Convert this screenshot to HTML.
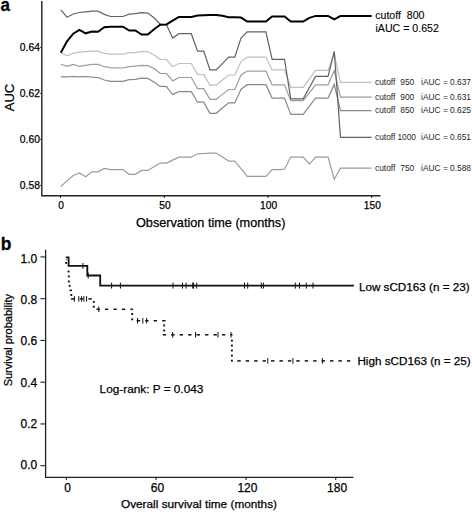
<!DOCTYPE html>
<html><head><meta charset="utf-8"><style>
html,body{margin:0;padding:0;background:#fff;}
svg{display:block;}
text{font-family:'Liberation Sans',sans-serif;fill:#000;stroke:#000;stroke-width:0.25px;}
.sm{fill:#1e1e1e;stroke:none;}
</style></head><body>
<svg width="472" height="512" viewBox="0 0 472 512">
<rect width="472" height="512" fill="#fff"/>

<text transform="translate(0.4,10.8) scale(1,1.11)" style="font-size:17px;font-weight:bold">a</text>
<path d="M41.8,1 V195.8 H380.4" fill="none" stroke="#222" stroke-width="1.4"/>
<line x1="40.2" y1="47.4" x2="41.8" y2="47.4" stroke="#222" stroke-width="1"/>
<text x="39.9" y="51.2" text-anchor="end" style="font-size:10.3px">0.64</text>
<line x1="40.2" y1="93.4" x2="41.8" y2="93.4" stroke="#222" stroke-width="1"/>
<text x="39.9" y="97.2" text-anchor="end" style="font-size:10.3px">0.62</text>
<line x1="40.2" y1="139.4" x2="41.8" y2="139.4" stroke="#222" stroke-width="1"/>
<text x="39.9" y="143.2" text-anchor="end" style="font-size:10.3px">0.60</text>
<line x1="40.2" y1="185.4" x2="41.8" y2="185.4" stroke="#222" stroke-width="1"/>
<text x="39.9" y="189.2" text-anchor="end" style="font-size:10.3px">0.58</text>
<line x1="60.5" y1="195.8" x2="60.5" y2="198" stroke="#222" stroke-width="1"/>
<text x="61.1" y="208.7" text-anchor="middle" style="font-size:10.2px">0</text>
<line x1="164.3" y1="195.8" x2="164.3" y2="198" stroke="#222" stroke-width="1"/>
<text x="164.9" y="208.7" text-anchor="middle" style="font-size:10.2px">50</text>
<line x1="268" y1="195.8" x2="268" y2="198" stroke="#222" stroke-width="1"/>
<text x="268.6" y="208.7" text-anchor="middle" style="font-size:10.2px">100</text>
<line x1="371.7" y1="195.8" x2="371.7" y2="198" stroke="#222" stroke-width="1"/>
<text x="372.3" y="208.7" text-anchor="middle" style="font-size:10.2px">150</text>
<text x="210.7" y="227.3" text-anchor="middle" style="font-size:12.7px">Observation time (months)</text>
<text transform="translate(14,97.5) rotate(-90)" text-anchor="middle" style="font-size:13px">AUC</text>
<polyline points="60.80,186.50 67.02,180.90 73.23,175.50 79.44,173.00 85.66,176.70 91.88,171.80 98.09,171.80 104.30,168.40 110.52,169.60 116.73,169.60 122.95,169.60 129.16,174.30 135.38,174.30 141.59,170.40 147.81,170.40 154.02,166.70 160.24,163.10 166.45,163.10 172.67,160.10 178.88,157.20 185.10,157.20 191.31,157.20 197.53,153.80 203.75,153.50 209.96,153.10 216.18,153.10 222.39,157.10 228.61,161.10 234.82,161.10 241.03,168.70 247.25,176.40 253.46,176.40 259.68,176.40 265.89,176.40 272.11,169.60 278.32,169.60 284.54,169.20 290.75,157.10 296.97,157.10 303.19,157.10 309.40,164.10 315.62,157.10 321.83,157.10 328.05,157.10 334.26,179.20 340.48,168.10 371.60,168.10" fill="none" stroke="#9c9c9c" stroke-width="1.2" stroke-linejoin="miter"/>
<polyline points="60.80,76.90 67.02,76.90 73.23,76.50 79.44,76.90 85.66,76.50 91.88,77.20 98.09,77.50 104.30,80.00 110.52,81.30 116.73,81.30 122.95,81.30 129.16,79.70 135.38,79.40 141.59,78.10 147.81,78.40 154.02,82.00 160.24,86.40 166.45,86.70 172.67,94.60 178.88,91.70 185.10,91.70 191.31,91.70 197.53,102.20 203.75,102.20 209.96,113.30 216.18,113.30 222.39,108.00 228.61,102.90 234.82,102.90 241.03,89.20 247.25,84.70 253.46,84.70 259.68,84.70 265.89,84.70 272.11,98.10 278.32,98.10 284.54,98.10 290.75,114.40 296.97,114.40 303.19,114.40 309.40,106.20 315.62,98.10 321.83,98.10 328.05,98.10 334.26,84.40 340.48,110.60 371.60,110.60" fill="none" stroke="#888888" stroke-width="1.2" stroke-linejoin="miter"/>
<polyline points="60.80,64.20 67.02,66.30 73.23,64.40 79.44,66.30 85.66,65.40 91.88,64.40 98.09,64.40 104.30,66.70 110.52,67.70 116.73,67.80 122.95,68.00 129.16,66.70 135.38,66.10 141.59,65.40 147.81,65.70 154.02,68.60 160.24,73.30 166.45,73.70 172.67,80.90 178.88,77.50 185.10,77.50 191.31,77.50 197.53,88.60 203.75,88.60 209.96,99.30 216.18,99.30 222.39,94.40 228.61,89.50 234.82,89.50 241.03,75.00 247.25,71.10 253.46,71.10 259.68,71.10 265.89,71.10 272.11,84.80 278.32,84.80 284.54,84.80 290.75,100.70 296.97,100.70 303.19,100.70 309.40,92.70 315.62,84.80 321.83,84.80 328.05,84.80 334.26,70.70 340.48,97.10 371.60,97.10" fill="none" stroke="#9e9e9e" stroke-width="1.2" stroke-linejoin="miter"/>
<polyline points="60.80,52.50 67.02,55.90 73.23,53.30 79.44,52.10 85.66,51.60 91.88,51.10 98.09,51.20 104.30,53.30 110.52,54.20 116.73,54.20 122.95,54.20 129.16,52.70 135.38,52.70 141.59,51.40 147.81,51.70 154.02,55.00 160.24,59.30 166.45,59.50 172.67,66.70 178.88,63.50 185.10,63.50 191.31,63.50 197.53,74.30 203.75,74.60 209.96,85.10 216.18,85.10 222.39,80.00 228.61,75.00 234.82,75.00 241.03,61.60 247.25,57.20 253.46,57.20 259.68,57.20 265.89,57.20 272.11,69.90 278.32,69.90 284.54,69.90 290.75,87.30 296.97,87.30 303.19,87.30 309.40,78.80 315.62,70.40 321.83,70.40 328.05,70.40 334.26,54.00 340.48,82.40 371.60,82.40" fill="none" stroke="#c0c0c0" stroke-width="1.2" stroke-linejoin="miter"/>
<polyline points="60.80,9.90 67.02,17.20 73.23,14.00 79.44,12.50 85.66,11.80 91.88,11.10 98.09,11.20 104.30,14.40 110.52,16.50 116.73,16.50 122.95,16.50 129.16,14.20 135.38,13.70 141.59,12.70 147.81,13.10 154.02,17.80 160.24,24.20 166.45,24.80 172.67,38.10 178.88,33.70 185.10,33.70 191.31,33.70 197.53,51.20 203.75,51.20 209.96,69.90 216.18,69.90 222.39,63.60 228.61,57.20 234.82,57.20 241.03,38.10 247.25,31.80 253.46,31.80 259.68,31.80 265.89,31.80 272.11,59.30 278.32,59.30 284.54,59.30 290.75,98.80 296.97,98.80 303.19,98.80 309.40,87.50 315.62,76.40 321.83,76.40 328.05,76.40 334.26,51.30 340.48,137.30 371.60,137.30" fill="none" stroke="#626262" stroke-width="1.2" stroke-linejoin="miter"/>
<polyline points="60.80,52.80 67.02,41.30 73.23,33.70 79.44,29.90 85.66,33.30 91.88,31.50 98.09,31.80 104.30,27.30 110.52,26.70 116.73,26.70 122.95,26.70 129.16,30.50 135.38,30.50 141.59,34.60 147.81,34.60 154.02,29.20 160.24,24.80 166.45,24.40 172.67,20.60 178.88,16.90 185.10,16.90 191.31,16.90 197.53,15.60 203.75,15.20 209.96,14.90 216.18,14.90 222.39,15.80 228.61,17.20 234.82,17.30 241.03,17.60 247.25,21.60 253.46,21.60 259.68,21.60 265.89,21.60 272.11,16.50 278.32,16.50 284.54,16.50 290.75,21.60 296.97,21.60 303.19,21.60 309.40,17.80 315.62,15.90 321.83,15.90 328.05,15.90 334.26,19.40 340.48,15.90 371.60,15.90" fill="none" stroke="#000000" stroke-width="2.0" stroke-linejoin="miter"/>
<text x="375.2" y="18.9" style="font-size:10.6px;stroke-width:0.1px" xml:space="preserve">cutoff  800</text>
<text x="375.5" y="32.1" style="font-size:10.6px;stroke-width:0.1px">iAUC = 0.652</text>
<text x="375" y="85.1" class="sm" style="font-size:8.35px">cutoff</text>
<text x="414.2" y="85.1" text-anchor="end" class="sm" style="font-size:8.35px">950</text>
<text x="421.1" y="85.1" class="sm" style="font-size:8.35px">iAUC = 0.637</text>
<text x="375" y="99.8" class="sm" style="font-size:8.35px">cutoff</text>
<text x="414.2" y="99.8" text-anchor="end" class="sm" style="font-size:8.35px">900</text>
<text x="421.1" y="99.8" class="sm" style="font-size:8.35px">iAUC = 0.631</text>
<text x="375" y="113.3" class="sm" style="font-size:8.35px">cutoff</text>
<text x="414.2" y="113.3" text-anchor="end" class="sm" style="font-size:8.35px">850</text>
<text x="421.1" y="113.3" class="sm" style="font-size:8.35px">iAUC = 0.625</text>
<text x="375" y="140.0" class="sm" style="font-size:8.35px">cutoff</text>
<text x="416" y="140.0" text-anchor="end" class="sm" style="font-size:8.35px">1000</text>
<text x="421.1" y="140.0" class="sm" style="font-size:8.35px">iAUC = 0.651</text>
<text x="375" y="170.8" class="sm" style="font-size:8.35px">cutoff</text>
<text x="414.2" y="170.8" text-anchor="end" class="sm" style="font-size:8.35px">750</text>
<text x="421.1" y="170.8" class="sm" style="font-size:8.35px">iAUC = 0.588</text>
<text transform="translate(0.8,250.1) scale(1.02,1.1)" style="font-size:17px;font-weight:bold">b</text>
<path d="M45.6,249.7 V477.3 H353.4" fill="none" stroke="#222" stroke-width="1.3"/>
<line x1="40.4" y1="256.9" x2="45.6" y2="256.9" stroke="#222" stroke-width="1.1"/>
<text x="37.3" y="263.0" text-anchor="end" style="font-size:12px">1.0</text>
<line x1="40.4" y1="298.65999999999997" x2="45.6" y2="298.65999999999997" stroke="#222" stroke-width="1.1"/>
<text x="37.3" y="304.2" text-anchor="end" style="font-size:12px">0.8</text>
<line x1="40.4" y1="340.41999999999996" x2="45.6" y2="340.41999999999996" stroke="#222" stroke-width="1.1"/>
<text x="37.3" y="345.4" text-anchor="end" style="font-size:12px">0.6</text>
<line x1="40.4" y1="382.17999999999995" x2="45.6" y2="382.17999999999995" stroke="#222" stroke-width="1.1"/>
<text x="37.3" y="386.6" text-anchor="end" style="font-size:12px">0.4</text>
<line x1="40.4" y1="423.93999999999994" x2="45.6" y2="423.93999999999994" stroke="#222" stroke-width="1.1"/>
<text x="37.3" y="427.8" text-anchor="end" style="font-size:12px">0.2</text>
<line x1="40.4" y1="465.69999999999993" x2="45.6" y2="465.69999999999993" stroke="#222" stroke-width="1.1"/>
<text x="37.3" y="469.0" text-anchor="end" style="font-size:12px">0.0</text>
<line x1="66.3" y1="477.2" x2="66.3" y2="480" stroke="#222" stroke-width="1.1"/>
<text x="67.7" y="491.9" text-anchor="middle" style="font-size:12px">0</text>
<line x1="156.1" y1="477.2" x2="156.1" y2="480" stroke="#222" stroke-width="1.1"/>
<text x="157.5" y="491.9" text-anchor="middle" style="font-size:12px">60</text>
<line x1="246" y1="477.2" x2="246" y2="480" stroke="#222" stroke-width="1.1"/>
<text x="247.4" y="491.9" text-anchor="middle" style="font-size:12px">120</text>
<line x1="335.7" y1="477.2" x2="335.7" y2="480" stroke="#222" stroke-width="1.1"/>
<text x="337.1" y="491.9" text-anchor="middle" style="font-size:12px">180</text>
<text x="199" y="507.5" text-anchor="middle" style="font-size:11.8px">Overall survival time (months)</text>
<text transform="translate(12.2,340.2) rotate(-90)" text-anchor="middle" style="font-size:11px">Survival probability</text>
<text x="99.6" y="392.9" style="font-size:11.8px">Log-rank: P = 0.043</text>
<text x="358.9" y="291.2" style="font-size:11.7px">Low sCD163 (n = 23)</text>
<text x="357.4" y="364.5" style="font-size:11.7px">High sCD163 (n = 25)</text>
<path d="M65.8,257.4 H68.6 V265.9 H87.3 V275.5 H100.2 V285.6 H353.9" fill="none" stroke="#111" stroke-width="1.8"/>
<line x1="82.9" y1="262.9" x2="82.9" y2="268.9" stroke="#111" stroke-width="1"/>
<line x1="88.2" y1="272.5" x2="88.2" y2="278.5" stroke="#111" stroke-width="1"/>
<line x1="111.6" y1="282.6" x2="111.6" y2="288.6" stroke="#111" stroke-width="1"/>
<line x1="120.4" y1="282.6" x2="120.4" y2="288.6" stroke="#111" stroke-width="1"/>
<line x1="173" y1="282.6" x2="173" y2="288.6" stroke="#111" stroke-width="1"/>
<line x1="182.5" y1="282.6" x2="182.5" y2="288.6" stroke="#111" stroke-width="1"/>
<line x1="186.1" y1="282.6" x2="186.1" y2="288.6" stroke="#111" stroke-width="1"/>
<line x1="192.7" y1="282.6" x2="192.7" y2="288.6" stroke="#111" stroke-width="1"/>
<line x1="193.6" y1="282.6" x2="193.6" y2="288.6" stroke="#111" stroke-width="1"/>
<line x1="196.7" y1="282.6" x2="196.7" y2="288.6" stroke="#111" stroke-width="1"/>
<line x1="244.5" y1="282.6" x2="244.5" y2="288.6" stroke="#111" stroke-width="1"/>
<line x1="247.7" y1="282.6" x2="247.7" y2="288.6" stroke="#111" stroke-width="1"/>
<line x1="261.3" y1="282.6" x2="261.3" y2="288.6" stroke="#111" stroke-width="1"/>
<line x1="263.4" y1="282.6" x2="263.4" y2="288.6" stroke="#111" stroke-width="1"/>
<line x1="295.3" y1="282.6" x2="295.3" y2="288.6" stroke="#111" stroke-width="1"/>
<line x1="299.5" y1="282.6" x2="299.5" y2="288.6" stroke="#111" stroke-width="1"/>
<line x1="306.3" y1="282.6" x2="306.3" y2="288.6" stroke="#111" stroke-width="1"/>
<line x1="313" y1="282.6" x2="313" y2="288.6" stroke="#111" stroke-width="1"/>
<line x1="71.05" y1="298.9" x2="74.45" y2="298.9" stroke="#111" stroke-width="1.5"/>
<line x1="79.75" y1="298.9" x2="83.15" y2="298.9" stroke="#111" stroke-width="1.5"/>
<line x1="88.45" y1="298.9" x2="91.85" y2="298.9" stroke="#111" stroke-width="1.5"/>
<line x1="96.40" y1="309.3" x2="99.80" y2="309.3" stroke="#111" stroke-width="1.5"/>
<line x1="104.90" y1="309.3" x2="108.30" y2="309.3" stroke="#111" stroke-width="1.5"/>
<line x1="113.40" y1="309.3" x2="116.80" y2="309.3" stroke="#111" stroke-width="1.5"/>
<line x1="121.90" y1="309.3" x2="125.30" y2="309.3" stroke="#111" stroke-width="1.5"/>
<line x1="130.40" y1="309.3" x2="133.00" y2="309.3" stroke="#111" stroke-width="1.5"/>
<line x1="136.70" y1="320.7" x2="140.10" y2="320.7" stroke="#111" stroke-width="1.5"/>
<line x1="145.17" y1="320.7" x2="148.57" y2="320.7" stroke="#111" stroke-width="1.5"/>
<line x1="153.64" y1="320.7" x2="157.04" y2="320.7" stroke="#111" stroke-width="1.5"/>
<line x1="162.11" y1="320.7" x2="165.50" y2="320.7" stroke="#111" stroke-width="1.5"/>
<line x1="162.75" y1="334.8" x2="166.15" y2="334.8" stroke="#111" stroke-width="1.5"/>
<line x1="171.20" y1="334.8" x2="174.60" y2="334.8" stroke="#111" stroke-width="1.5"/>
<line x1="179.65" y1="334.8" x2="183.05" y2="334.8" stroke="#111" stroke-width="1.5"/>
<line x1="188.10" y1="334.8" x2="191.50" y2="334.8" stroke="#111" stroke-width="1.5"/>
<line x1="196.55" y1="334.8" x2="199.95" y2="334.8" stroke="#111" stroke-width="1.5"/>
<line x1="205.00" y1="334.8" x2="208.40" y2="334.8" stroke="#111" stroke-width="1.5"/>
<line x1="213.45" y1="334.8" x2="216.85" y2="334.8" stroke="#111" stroke-width="1.5"/>
<line x1="221.90" y1="334.8" x2="225.30" y2="334.8" stroke="#111" stroke-width="1.5"/>
<line x1="230.35" y1="334.8" x2="232.50" y2="334.8" stroke="#111" stroke-width="1.5"/>
<line x1="237.30" y1="360.9" x2="240.70" y2="360.9" stroke="#111" stroke-width="1.5"/>
<line x1="245.73" y1="360.9" x2="249.13" y2="360.9" stroke="#111" stroke-width="1.5"/>
<line x1="254.16" y1="360.9" x2="257.56" y2="360.9" stroke="#111" stroke-width="1.5"/>
<line x1="262.59" y1="360.9" x2="265.99" y2="360.9" stroke="#111" stroke-width="1.5"/>
<line x1="271.02" y1="360.9" x2="274.42" y2="360.9" stroke="#111" stroke-width="1.5"/>
<line x1="279.45" y1="360.9" x2="282.85" y2="360.9" stroke="#111" stroke-width="1.5"/>
<line x1="287.88" y1="360.9" x2="291.28" y2="360.9" stroke="#111" stroke-width="1.5"/>
<line x1="296.31" y1="360.9" x2="299.71" y2="360.9" stroke="#111" stroke-width="1.5"/>
<line x1="304.74" y1="360.9" x2="308.14" y2="360.9" stroke="#111" stroke-width="1.5"/>
<line x1="313.17" y1="360.9" x2="316.57" y2="360.9" stroke="#111" stroke-width="1.5"/>
<line x1="321.60" y1="360.9" x2="325.00" y2="360.9" stroke="#111" stroke-width="1.5"/>
<line x1="330.03" y1="360.9" x2="333.43" y2="360.9" stroke="#111" stroke-width="1.5"/>
<line x1="338.46" y1="360.9" x2="341.86" y2="360.9" stroke="#111" stroke-width="1.5"/>
<line x1="346.89" y1="360.9" x2="350.29" y2="360.9" stroke="#111" stroke-width="1.5"/>
<line x1="69.4" y1="290.4" x2="72" y2="290.4" stroke="#111" stroke-width="1.5"/>
<rect x="65.5" y="259.2" width="1.2" height="1.2" fill="#555"/>
<rect x="65.15" y="261.95" width="1.9" height="1.9" fill="#111"/>
<rect x="67.55" y="270.55" width="1.9" height="1.9" fill="#111"/>
<rect x="67.85" y="275.45" width="1.9" height="1.9" fill="#111"/>
<rect x="67.85" y="280.55" width="1.9" height="1.9" fill="#111"/>
<rect x="68.65" y="284.95" width="1.9" height="1.9" fill="#111"/>
<rect x="70.35" y="294.05" width="1.9" height="1.9" fill="#111"/>
<rect x="92.85" y="300.95" width="1.9" height="1.9" fill="#111"/>
<rect x="92.85" y="305.75" width="1.9" height="1.9" fill="#111"/>
<rect x="131.25" y="313.05" width="1.9" height="1.9" fill="#111"/>
<rect x="131.25" y="318.35" width="1.9" height="1.9" fill="#111"/>
<rect x="163.25" y="324.45" width="1.9" height="1.9" fill="#111"/>
<rect x="163.25" y="329.55" width="1.9" height="1.9" fill="#111"/>
<rect x="230.95" y="339.65" width="1.9" height="1.9" fill="#111"/>
<rect x="230.95" y="344.65" width="1.9" height="1.9" fill="#111"/>
<rect x="230.95" y="349.55" width="1.9" height="1.9" fill="#111"/>
<rect x="230.95" y="354.65" width="1.9" height="1.9" fill="#111"/>
<rect x="230.95" y="359.75" width="1.9" height="1.9" fill="#111"/>
<line x1="74.4" y1="296.09999999999997" x2="74.4" y2="301.7" stroke="#111" stroke-width="1"/>
<line x1="78.8" y1="296.09999999999997" x2="78.8" y2="301.7" stroke="#111" stroke-width="1"/>
<line x1="81.6" y1="296.09999999999997" x2="81.6" y2="301.7" stroke="#111" stroke-width="1"/>
<line x1="83.9" y1="296.09999999999997" x2="83.9" y2="301.7" stroke="#111" stroke-width="1"/>
<line x1="86.6" y1="296.09999999999997" x2="86.6" y2="301.7" stroke="#111" stroke-width="1"/>
<line x1="98.8" y1="306.5" x2="98.8" y2="312.1" stroke="#111" stroke-width="1"/>
<line x1="137.5" y1="317.9" x2="137.5" y2="323.5" stroke="#111" stroke-width="1"/>
<line x1="142.8" y1="317.9" x2="142.8" y2="323.5" stroke="#111" stroke-width="1"/>
<line x1="146.7" y1="317.9" x2="146.7" y2="323.5" stroke="#111" stroke-width="1"/>
<line x1="172.7" y1="332.0" x2="172.7" y2="337.6" stroke="#111" stroke-width="1"/>
<line x1="195.6" y1="332.0" x2="195.6" y2="337.6" stroke="#111" stroke-width="1"/>
<line x1="218.0" y1="332.0" x2="218.0" y2="337.6" stroke="#111" stroke-width="1"/>
<line x1="231.0" y1="332.0" x2="231.0" y2="337.6" stroke="#111" stroke-width="1"/>
<line x1="267.8" y1="358.09999999999997" x2="267.8" y2="363.7" stroke="#111" stroke-width="1"/>
<line x1="292.9" y1="358.09999999999997" x2="292.9" y2="363.7" stroke="#111" stroke-width="1"/>
<line x1="322.4" y1="358.09999999999997" x2="322.4" y2="363.7" stroke="#111" stroke-width="1"/>
</svg>
</body></html>
